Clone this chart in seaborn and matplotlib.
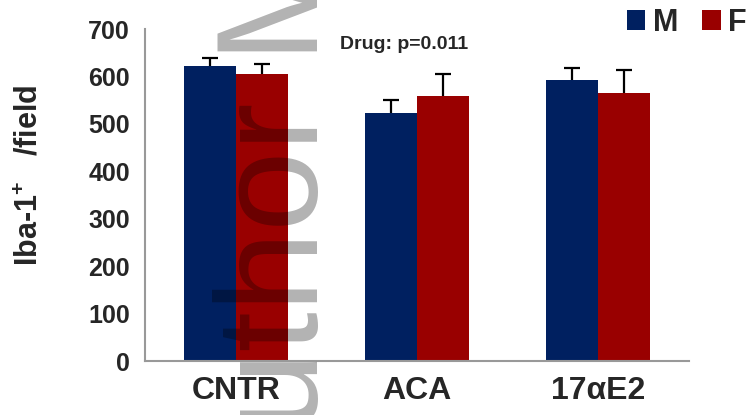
import pandas as pd
import matplotlib.pyplot as plt
import seaborn as sns

# data
drugs = ["CNTR", "ACA", "17αE2"]
sexes = ["M", "F"]
male_means = [623, 523, 592]
female_means = [606, 559, 566]
male_sem = [17, 28, 25]
female_sem = [21, 46, 48]
annotation = "Drug: p=0.011"

df = pd.DataFrame({
    "drug": drugs * 2,
    "sex": ["M"] * 3 + ["F"] * 3,
    "iba": male_means + female_means,
    "sem": male_sem + female_sem,
})

sns.set_style("white")
plt.rcParams["font.family"] = ["Liberation Sans", "DejaVu Sans"]
plt.rcParams["mathtext.fontset"] = "custom"
plt.rcParams["mathtext.bf"] = "Liberation Sans:bold"
plt.rcParams["mathtext.rm"] = "Liberation Sans:bold"

palette = {"M": "#002060", "F": "#990000"}
fig = plt.figure(figsize=(7.52, 4.15), dpi=100)
ax = fig.add_axes([0.193, 0.130, 0.723, 0.800])

sns.barplot(data=df, x="drug", y="iba", hue="sex", hue_order=sexes,
            order=drugs, palette=palette, width=0.575, errorbar=None,
            saturation=1, linewidth=0, ax=ax)

# upper error bars only, at the centre of each bar
for cont, sex in zip(ax.containers, sexes):
    sub = df[df["sex"] == sex].set_index("drug").loc[drugs]
    xs = [b.get_x() + b.get_width() / 2 for b in cont]
    _, caps, _ = ax.errorbar(xs, sub["iba"], yerr=[[0] * 3, sub["sem"]], fmt="none",
                             ecolor="black", elinewidth=1.6, capsize=6, capthick=1.6, zorder=3)
    caps[0].set_visible(False)

ax.set_xlim(-0.5, 2.5)
ax.set_ylim(0, 700)
ax.set_yticks(range(0, 701, 100))
ax.set_xticks([-0.5, 0.5, 1.5, 2.5], minor=True)
ax.tick_params(axis="x", which="major", length=0, pad=11, labelsize=23)
ax.tick_params(axis="x", which="minor", length=7, width=1.2, color="#999999", direction="out")
ax.tick_params(axis="y", length=7, width=1.2, color="#999999", direction="out", labelsize=18, pad=4)
for lab in ax.get_xticklabels() + ax.get_yticklabels():
    lab.set_fontweight("bold")

sns.despine(ax=ax)
for side in ["left", "bottom"]:
    ax.spines[side].set_color("#999999")
    ax.spines[side].set_linewidth(1.5)

ax.set_xlabel("")
ax.set_ylabel(r"Iba-1$^{\mathbf{+}}$   /field", fontsize=22, fontweight="bold")
ax.yaxis.set_label_coords(-0.185, 0.56)

ax.text(0.93, 667, annotation, ha="center", va="center", fontsize=14, fontweight="bold")

sns.move_legend(ax, "center right", bbox_to_anchor=(1.03, 0.945),
                bbox_transform=fig.transFigure, ncol=2, frameon=False, title=None,
                handlelength=0.6, handleheight=0.6, handletextpad=0.25,
                columnspacing=0.8, prop={"size": 22, "weight": "bold"})
for t in ax.get_legend().get_texts():
    t.set_fontweight("bold")

# grey "Author Manuscript" watermark running up the page
fig.text(318 / 752, 1 - 528 / 415, "Author Manuscript", rotation=90,
         rotation_mode="anchor", ha="left", va="baseline", fontsize=104,
         color="black", alpha=0.3, family="Liberation Sans")

fig.savefig("out.png", dpi=100)
plt.close(fig)
